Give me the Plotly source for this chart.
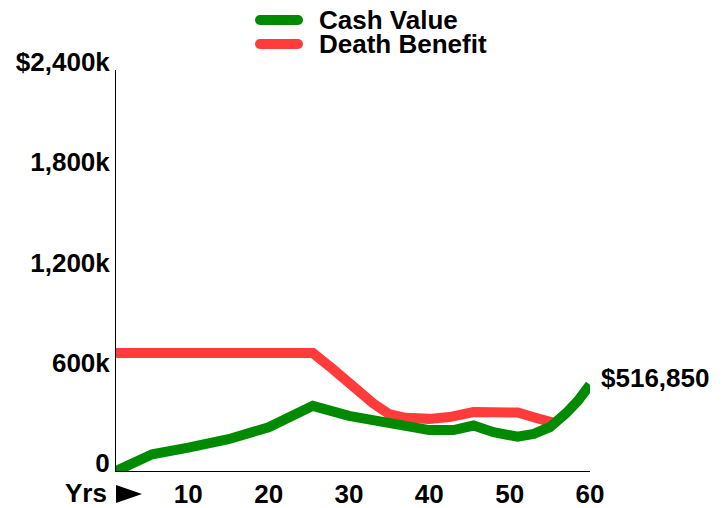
import plotly.graph_objects as go

# ---- data (values in $ thousands) ----
cash_years = [1, 5.5, 10, 15, 20, 25.5, 30, 35, 40, 43, 45.5, 48, 51, 53, 55, 57, 58.5, 60]
cash_values = [0, 100, 140, 190, 262, 390, 330, 280, 245, 245, 272, 232, 205, 222, 262, 345, 420, 516.85]

death_years = [1, 25.5, 28, 30.5, 33, 35, 37, 40, 42.5, 45.5, 48, 51, 53, 55.5]
death_values = [706, 706, 610, 505, 405, 340, 318, 312, 323, 353, 345, 350, 322, 288]

y_tickvals = [0, 600, 1200, 1800, 2400]
y_ticktext = ["0", "600k", "1,200k", "1,800k", "$2,400k"]
x_tickvals = [10, 20, 30, 40, 50, 60]
x_ticktext = ["10", "20", "30", "40", "50", "60"]
end_label = "$516,850"

GREEN = "#008a00"
RED = "#ff3b3b"
FONT = "Liberation Sans"
FS = 26

fig = go.Figure()
fig.add_trace(go.Scatter(x=death_years, y=death_values, mode="lines", name="Death Benefit",
                         line=dict(color=RED, width=10), cliponaxis=False, showlegend=False))
fig.add_trace(go.Scatter(x=cash_years, y=cash_values, mode="lines", name="Cash Value",
                         line=dict(color=GREEN, width=10), cliponaxis=False, showlegend=False))

# page body adds an 8px offset; size the figure so the plot lands where the reference has it
OFF = 8
W, H = 720, 500
L, R, T, B = 108, 138, 62, 37
pw, ph = W - L - R, H - T - B

def px(x):
    return (x - OFF - L) / pw

def py(y):
    return (H - B - (y - OFF)) / ph

def legend_symbol(color, yc):
    out = [dict(type="line", xref="paper", yref="paper", x0=px(260), x1=px(298), y0=py(yc), y1=py(yc),
                line=dict(color=color, width=10))]
    for cx in (260, 298):
        out.append(dict(type="circle", xref="paper", yref="paper",
                        x0=px(cx - 5), x1=px(cx + 5), y0=py(yc + 5), y1=py(yc - 5),
                        fillcolor=color, line=dict(width=0)))
    return out

shapes = legend_symbol(GREEN, 20) + legend_symbol(RED, 44) + [
    dict(type="path", xref="paper", yref="paper",
         path=f"M 0,{py(485)} L {px(142)},{py(494)} L 0,{py(503)} Z",
         fillcolor="black", line=dict(width=0)),
]

def font(size=FS):
    return dict(family=FONT, size=size, color="black", weight="bold")

annotations = [
    dict(xref="paper", yref="paper", x=px(318), y=py(20), text="Cash Value", showarrow=False,
         xanchor="left", yanchor="middle", borderpad=0, font=font()),
    dict(xref="paper", yref="paper", x=px(318), y=py(44), text="Death Benefit", showarrow=False,
         xanchor="left", yanchor="middle", borderpad=0, font=font()),
    dict(xref="paper", yref="paper", x=0, xshift=-7, y=py(493), text="Yrs", showarrow=False,
         xanchor="right", yanchor="middle", font=font()),
    dict(x=cash_years[-1], y=cash_values[-1], text=end_label, showarrow=False, xanchor="left",
         yanchor="middle", xshift=9, yshift=7, font=font(26)),
]

fig.update_layout(
    template="none",
    width=W, height=H,
    margin=dict(l=L, r=R, t=T, b=B),
    paper_bgcolor="white", plot_bgcolor="white",
    showlegend=False,
    shapes=shapes, annotations=annotations,
    xaxis=dict(range=[1, 60], tickvals=x_tickvals, ticktext=x_ticktext, showgrid=False, zeroline=False,
               showline=True, linecolor="black", linewidth=1, ticks="", automargin=False,
               tickfont=font()),
    yaxis=dict(range=[0, 2400], tickvals=y_tickvals, ticktext=y_ticktext, showgrid=False, zeroline=False,
               showline=True, linecolor="black", linewidth=1, ticks="", ticklabelshift=-8, automargin=False,
               tickfont=font()),
)

fig.write_html("out.html")
